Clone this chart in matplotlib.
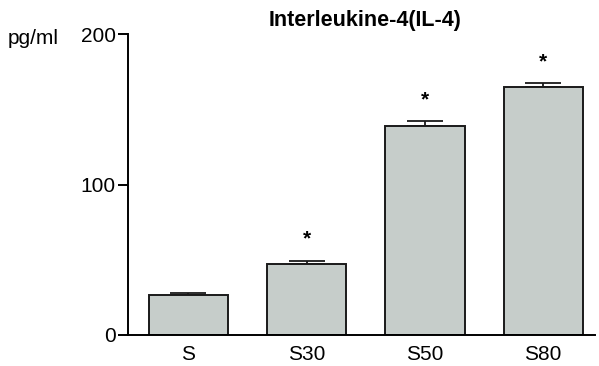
import matplotlib
matplotlib.use("Agg")
import matplotlib.pyplot as plt

plt.rcParams['font.family'] = ['Liberation Sans', 'DejaVu Sans']

# data
groups = ["S", "S30", "S50", "S80"]
means = [26.5, 47.5, 139, 165]
sem = [1.5, 1.8, 3.0, 2.5]
signif = [False, True, True, True]

fig = plt.figure(figsize=(5.99, 3.66), dpi=100)
ax = fig.add_axes([0.2137, 0.0847, 0.78, 0.8223])

x = list(range(len(groups)))
ax.bar(x, means, width=0.67, color="#c6cdca", edgecolor="#1a1a1a", linewidth=1.4, zorder=2)
ax.errorbar(x, means, yerr=[[0] * len(sem), sem], fmt="none", ecolor="#1a1a1a",
            elinewidth=1.3, capsize=13, capthick=1.3, zorder=1)

for xi, m, e, s in zip(x, means, sem, signif):
    if s:
        ax.text(xi, m + e + 8, "*", ha="center", va="bottom", fontsize=15, fontweight="bold")

ax.set_xlim(-0.51, 3.44)
ax.set_ylim(0, 200)
ax.set_yticks([0, 100, 200])
ax.set_xticks(x)
ax.set_xticklabels(groups)
ax.tick_params(axis="y", length=7, width=1.4, labelsize=15, pad=2)
ax.tick_params(axis="x", length=0, labelsize=15, pad=7)
for side in ["top", "right"]:
    ax.spines[side].set_visible(False)
for side in ["left", "bottom"]:
    ax.spines[side].set_linewidth(1.4)

fig.text(0.61, 0.945, "Interleukine-4(IL-4)", ha="center", va="center", fontsize=15.5, fontweight="bold")
fig.text(0.013, 0.895, "pg/ml", ha="left", va="center", fontsize=15)

fig.savefig("out.png", dpi=100)
